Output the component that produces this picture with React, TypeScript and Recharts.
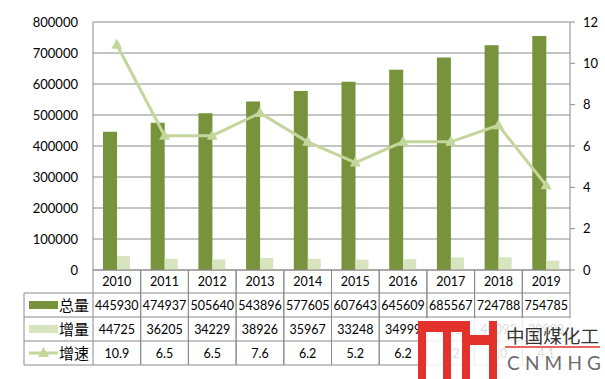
import { ComposedChart, Bar, Line, XAxis, YAxis, CartesianGrid } from 'recharts';

const years = ['2010', '2011', '2012', '2013', '2014', '2015', '2016', '2017', '2018', '2019'];
const totalValues = [445930, 474937, 505640, 543896, 577605, 607643, 645609, 685567, 724788, 754785];
const incrementValues = [44725, 36205, 34229, 38926, 35967, 33248, 34999, 40413, 41092, 29998];
const growthRates = [10.9, 6.5, 6.5, 7.6, 6.2, 5.2, 6.2, 6.2, 7.0, 4.1];
const leftTicks = [0, 100000, 200000, 300000, 400000, 500000, 600000, 700000, 800000];
const rightTicks = [0, 2, 4, 6, 8, 10, 12];
const rowLabels = ['总量', '增量', '增速'];

const data = years.map((year, i) => ({
  year,
  total: totalValues[i],
  increment: incrementValues[i],
  growth: growthRates[i],
}));

const W = 605;
const H = 379;
const PLOT_LEFT = 93;
const PLOT_RIGHT = 570;
const PLOT_BOTTOM = 270;
const TABLE_LEFT = 24;
const CAT_W = (PLOT_RIGHT - PLOT_LEFT) / years.length;
const ROWS = [0, 23, 47, 71, 95];

const DARK = '#77933c';
const LIGHT = '#d7e4bd';
const LINE = '#c3d69b';
const GRID = '#8a8a8a';
const FONT = 'Lato, "Noto Sans CJK SC", sans-serif';

const Triangle = ({ cx, cy }: any) => {
  if (cx == null || cy == null) return null;
  return <path d={`M${cx},${cy - 6} L${cx + 5.5},${cy + 4} L${cx - 5.5},${cy + 4} Z`} fill={LINE} />;
};

const TableTick = ({ x, payload }: any) => {
  const i = payload.index;
  const y = PLOT_BOTTOM;
  const left = x - CAT_W / 2;
  const right = x + CAT_W / 2;
  const cells = [years[i], String(totalValues[i]), String(incrementValues[i]), growthRates[i].toFixed(1)];
  return (
    <g>
      {ROWS.map((off) => (
        <line key={off} x1={left} x2={right} y1={y + off} y2={y + off} stroke={GRID} />
      ))}
      <line x1={left} x2={left} y1={y} y2={y + ROWS[4]} stroke={GRID} />
      <line x1={right} x2={right} y1={y} y2={y + ROWS[4]} stroke={GRID} />
      {cells.map((t, r) => (
        <text
          key={r}
          x={x}
          y={y + (ROWS[r] + ROWS[r + 1]) / 2}
          textAnchor="middle"
          dominantBaseline="central"
          fontSize={12.5}
          fontFamily={FONT}
          fill="#000"
        >
          {t}
        </text>
      ))}
      {i === 0 && (
        <g>
          {ROWS.slice(1).map((off) => (
            <line key={off} x1={TABLE_LEFT} x2={left} y1={y + off} y2={y + off} stroke={GRID} />
          ))}
          <line x1={TABLE_LEFT} x2={TABLE_LEFT} y1={y + ROWS[1]} y2={y + ROWS[4]} stroke={GRID} />
          <rect x={29} y={y + 31} width={29} height={8} fill={DARK} />
          <rect x={29} y={y + 55} width={29} height={8} fill={LIGHT} />
          <line x1={29} x2={58} y1={y + 83} y2={y + 83} stroke={LINE} strokeWidth={3} />
          <Triangle cx={43.5} cy={y + 83} />
          {rowLabels.map((t, r) => (
            <text
              key={t}
              x={59}
              y={y + (ROWS[r + 1] + ROWS[r + 2]) / 2}
              dominantBaseline="central"
              fontSize={15}
              fontFamily={FONT}
              fill="#000"
            >
              {t}
            </text>
          ))}
        </g>
      )}
    </g>
  );
};

export default function App() {
  return (
    <div style={{ position: 'relative', width: W, height: H, background: '#fff' }}>
      <style>{'body{margin:0}'}</style>
      <ComposedChart
        width={W}
        height={H}
        data={data}
        margin={{ top: 22, right: 0, bottom: 14, left: 0 }}
        barGap={0}
      >
        <CartesianGrid vertical={false} stroke={GRID} yAxisId="left" />
        <XAxis
          dataKey="year"
          height={95}
          axisLine={false}
          tickLine={false}
          tickSize={0}
          tickMargin={0}
          interval={0}
          tick={<TableTick />}
        />
        <YAxis
          yAxisId="left"
          width={PLOT_LEFT}
          domain={[0, 800000]}
          ticks={leftTicks}
          interval={0}
          axisLine={{ stroke: GRID }}
          tickLine={false}
          tickSize={0}
          tickMargin={15}
          tick={{ fill: '#000', fontSize: 13, fontFamily: FONT }}
        />
        <YAxis
          yAxisId="right"
          orientation="right"
          width={W - PLOT_RIGHT}
          domain={[0, 12]}
          ticks={rightTicks}
          interval={0}
          axisLine={{ stroke: GRID }}
          tickLine={{ stroke: GRID }}
          tickSize={5}
          tickMargin={8}
          tick={{ fill: '#000', fontSize: 13, fontFamily: FONT }}
        />
        <Bar yAxisId="left" dataKey="total" fill={DARK} barSize={14} isAnimationActive={false} />
        <Bar yAxisId="left" dataKey="increment" fill={LIGHT} barSize={13} isAnimationActive={false} />
        <Line
          yAxisId="right"
          dataKey="growth"
          stroke={LINE}
          strokeWidth={3}
          dot={<Triangle />}
          activeDot={false}
          isAnimationActive={false}
        />
      </ComposedChart>
      <div
        style={{
          position: 'absolute',
          left: 420,
          top: 318,
          width: W - 420,
          height: H - 318,
          background: 'rgba(255,255,255,0.86)',
        }}
      />
      <svg style={{ position: 'absolute', left: 0, top: 0 }} width={W} height={H}>
        <g fill="#e3322b">
          <rect x={418} y={321} width={8} height={58} />
          <rect x={418} y={321} width={52} height={11} />
          <rect x={443} y={321} width={8} height={58} />
          <rect x={462} y={321} width={8} height={58} />
          <rect x={462} y={335} width={35} height={10} />
          <rect x={489} y={321} width={8} height={58} />
        </g>
        <text
          x={506}
          y={336}
          dominantBaseline="central"
          fontSize={18}
          fontFamily={FONT}
          fill="#333"
          textLength={93}
          lengthAdjust="spacingAndGlyphs"
        >
          中国煤化工
        </text>
        <line x1={505} x2={600} y1={347} y2={347} stroke="#e3322b" strokeWidth={1.5} />
        <text
          x={507}
          y={362}
          dominantBaseline="central"
          fontSize={19}
          fontFamily={FONT}
          fill="#6b6b6b"
          textLength={94}
          lengthAdjust="spacing"
        >
          CNMHG
        </text>
      </svg>
    </div>
  );
}
